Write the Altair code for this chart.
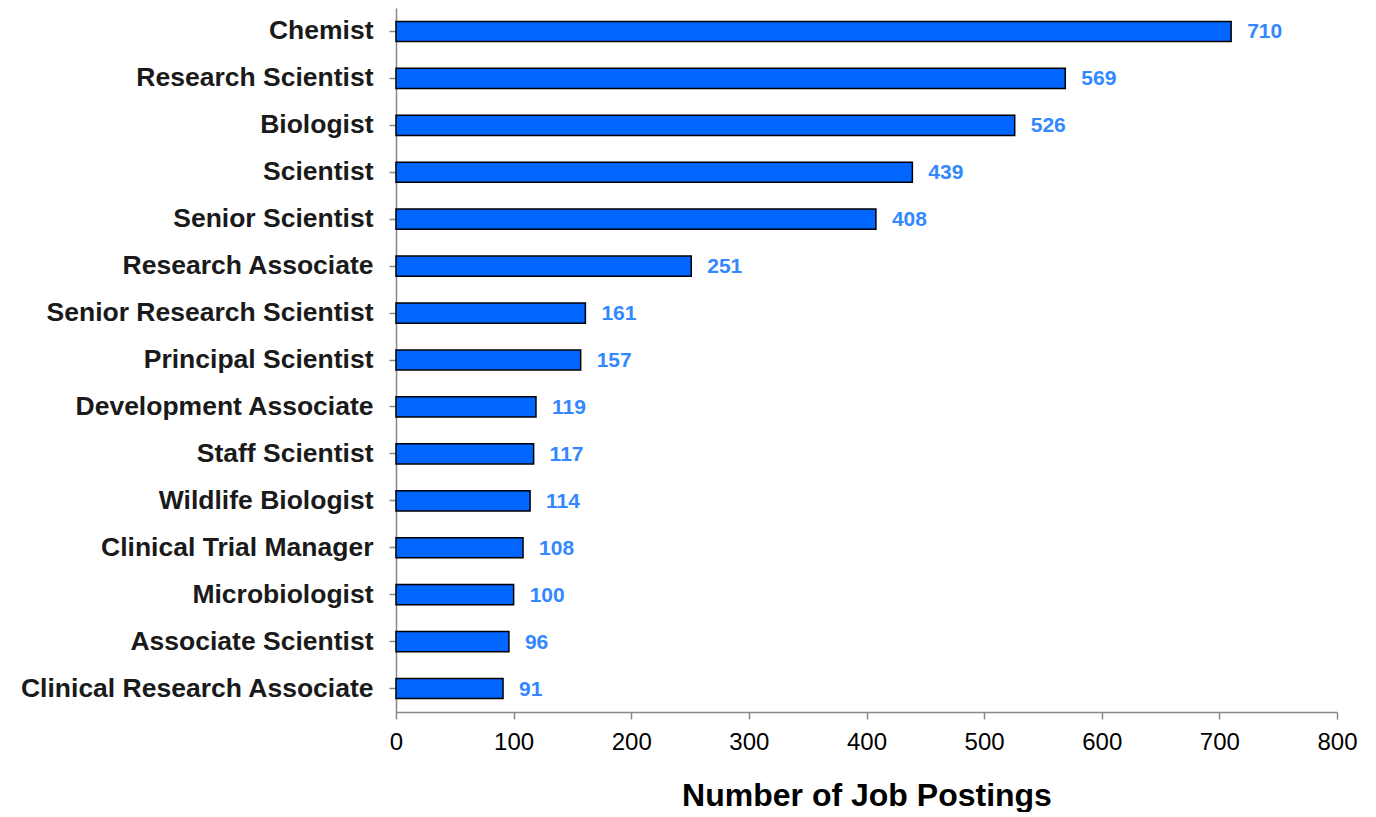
import altair as alt
import pandas as pd

titles = ["Chemist", "Research Scientist", "Biologist", "Scientist", "Senior Scientist",
          "Research Associate", "Senior Research Scientist", "Principal Scientist",
          "Development Associate", "Staff Scientist", "Wildlife Biologist",
          "Clinical Trial Manager", "Microbiologist", "Associate Scientist",
          "Clinical Research Associate"]
counts = [710, 569, 526, 439, 408, 251, 161, 157, 119, 117, 114, 108, 100, 96, 91]
x_ticks = [0, 100, 200, 300, 400, 500, 600, 700, 800]

df = pd.DataFrame({"title": titles, "count": counts})

y_enc = alt.Y("title:N", sort=titles, title=None,
              scale=alt.Scale(paddingInner=0.57, paddingOuter=0.285),
              axis=alt.Axis(labelFont="Liberation Sans", labelFontSize=26.5, labelFontWeight="bold",
                            labelColor="#1a1a1a", labelPadding=16, tickSize=7,
                            tickColor="#888888", domainColor="#888888", domainWidth=1.5,
                            tickWidth=1.5, labelLimit=420))
x_enc = alt.X("count:Q", title="Number of Job Postings",
              scale=alt.Scale(domain=[0, 800], nice=False),
              axis=alt.Axis(values=x_ticks, grid=False, labelFont="Liberation Sans",
                            labelFontSize=24, labelColor="#000000", tickSize=7, labelPadding=11,
                            labelFlush=False,
                            tickColor="#888888", domainColor="#888888", domainWidth=1.5,
                            tickWidth=1.5, titleFont="Liberation Sans", titleFontSize=32,
                            titleFontWeight="bold", titleColor="#000000", titlePadding=26))

bars = alt.Chart(df).mark_bar(color="#0066FF", stroke="#000000", strokeWidth=1.5).encode(
    x=x_enc, y=y_enc)

labels = alt.Chart(df).mark_text(align="left", baseline="middle", dx=16, dy=1,
                                 font="Liberation Sans", fontSize=21, fontWeight="bold",
                                 color="#3388FF").encode(
    x=alt.X("count:Q"), y=alt.Y("title:N", sort=titles), text="count:Q")

chart = (bars + labels).properties(
    width=941, height=704,
    autosize=alt.AutoSizeParams(type="none"),
    padding={"left": 388, "top": 0, "right": 20, "bottom": 100},
).configure_view(stroke=None)

chart.save("out.html", embed_options={"renderer": "svg", "actions": False})
